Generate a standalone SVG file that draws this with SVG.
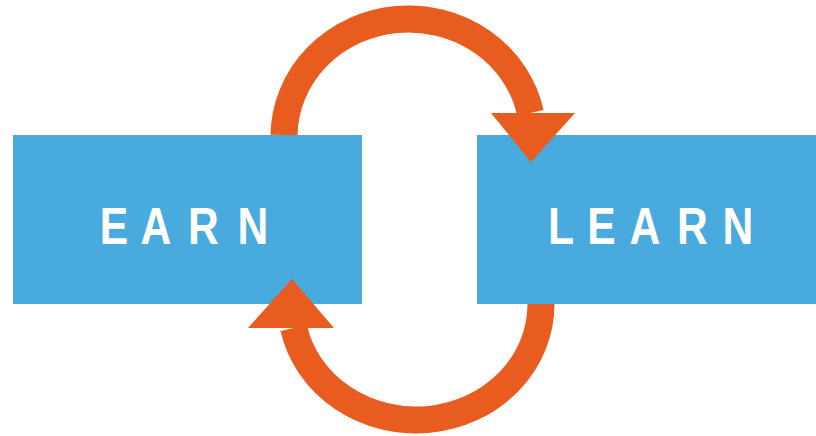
<svg xmlns="http://www.w3.org/2000/svg" width="816" height="436" viewBox="0 0 816 436">
<style>
.box{fill:#48AADD}
.lbl{fill:#FFFFFF;font-family:"Liberation Sans",Arial,sans-serif;font-weight:bold;font-size:52px;text-anchor:middle}
.arc{fill:none;stroke:#E85C1F;stroke-width:27;stroke-linecap:butt}
.head{fill:#E85C1F}
</style>
<rect width="816" height="436" fill="#FFFFFF"/>
<g id="earn">
<rect class="box" x="13" y="135" width="349" height="169"/>
<text class="lbl" transform="scale(0.82 1)" x="139 190.2 248.2 308.5" y="244">EARN</text>
</g>
<g id="learn">
<rect class="box" x="477" y="135" width="339" height="169"/>
<text class="lbl" transform="scale(0.82 1)" x="684.1 733.5 786.6 844.5 900" y="244">LEARN</text>
</g>
<g id="connectors">
<path class="arc" d="M284,135 A124.5,118 0 0 1 530.4,113"/>
<polygon class="head" points="491,113 575,113 531,162"/>
<path class="arc" d="M541,304 A125,116 0 0 1 293.7,328"/>
<polygon class="head" points="248,328 334,328 292,279"/>
</g>
</svg>
